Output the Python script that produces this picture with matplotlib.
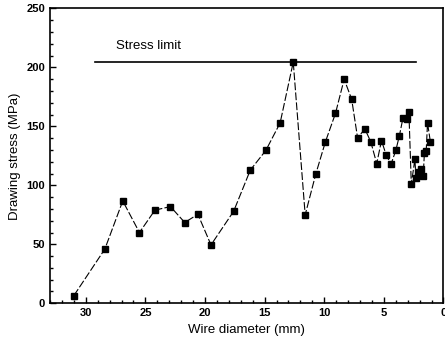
import matplotlib
matplotlib.use('Agg')
from matplotlib import pyplot as plt
from matplotlib.ticker import MultipleLocator

plt.rcParams['font.family'] = ['Liberation Sans', 'DejaVu Sans']

diameter = [31.0, 28.4, 26.9, 25.5, 24.2, 22.9, 21.7, 20.6, 19.5, 17.6,
            16.2, 14.9, 13.7, 12.6, 11.6, 10.7, 9.9, 9.06, 8.33, 7.7,
            7.2, 6.6, 6.1, 5.6, 5.2, 4.8, 4.4, 4.0, 3.7, 3.4,
            3.1, 2.9, 2.7, 2.4, 2.3, 2.1, 1.9, 1.7, 1.6, 1.45,
            1.34, 1.1]
stress = [6.5, 46, 86.8, 60, 79, 82, 68.5, 75.5, 49.5, 78,
          113, 129.6, 153, 204.5, 75, 110, 137, 161, 190, 173,
          140, 148, 137, 118.5, 138, 125.6, 118, 129.6, 142, 157,
          156, 162, 101, 122, 106, 111, 114, 108, 127.6, 129,
          153, 137]

limit_value = 205
limit_from, limit_to = 29.2, 2.3

fig = plt.figure(figsize=(4.45, 3.48), dpi=100)
ax = fig.add_axes([0.1124, 0.1285, 0.8842, 0.8471])

ax.plot(diameter, stress, color='black', lw=0.8, ls=(0, (7, 2)),
        marker='s', ms=4, mfc='black', mec='black')
ax.plot([limit_from, limit_to], [limit_value, limit_value], color='black', lw=1.2)
ax.text(27.5, 218, 'Stress limit', fontsize=9.5, ha='left', va='center')

ax.set_xlim(33, 0)
ax.set_ylim(0, 250)
ax.xaxis.set_major_locator(MultipleLocator(5))
ax.xaxis.set_minor_locator(MultipleLocator(1))
ax.yaxis.set_major_locator(MultipleLocator(50))
ax.yaxis.set_minor_locator(MultipleLocator(10))
ax.tick_params(which='both', direction='in', top=False, right=False,
               labelsize=8, width=1)
ax.tick_params(which='major', length=4)
ax.tick_params(which='minor', length=2)
for lab in ax.get_xticklabels() + ax.get_yticklabels():
    lab.set_fontweight('bold')
for s in ax.spines.values():
    s.set_linewidth(1.2)

ax.set_xlabel('Wire diameter (mm)', fontsize=9.5)
ax.set_ylabel('Drawing stress (MPa)', fontsize=9.5)

fig.savefig('out.png', dpi=100)
